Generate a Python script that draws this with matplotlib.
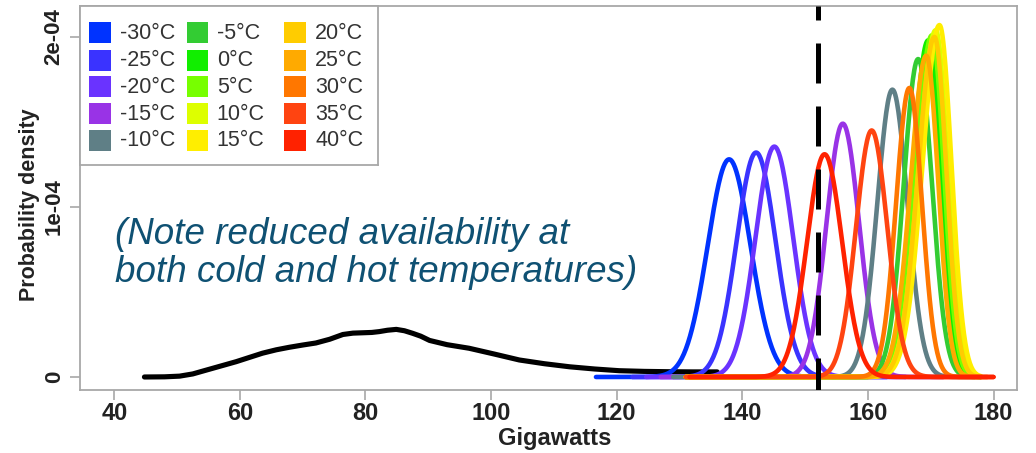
import numpy as np
import matplotlib
matplotlib.use("Agg")
import matplotlib.pyplot as plt
from matplotlib.patches import Rectangle

# ---------------- data ----------------
temps = ["-30°C", "-25°C", "-20°C", "-15°C", "-10°C",
         "-5°C", "0°C", "5°C", "10°C", "15°C",
         "20°C", "25°C", "30°C", "35°C", "40°C"]
colors = ["#0033FF", "#3a33FF", "#6a33FF", "#9933E6", "#5F7F86",
          "#33CC33", "#11EE00", "#77FF00", "#DDFF00", "#FFEE00",
          "#FFCC00", "#FFAA00", "#FF7700", "#FF4411", "#FF2200"]
# peak location (GW), peak density, left / right spread (GW), drawn range
peak_gw   = [137.9, 142.2, 145.1, 156.0, 163.9, 168.0, 169.6, 170.2, 170.8, 171.4,
             170.6, 169.3, 166.6, 160.6, 153.1]
peak_dens = [1.28e-4, 1.32e-4, 1.355e-4, 1.49e-4, 1.69e-4, 1.87e-4, 1.98e-4, 2.01e-4,
             2.04e-4, 2.07e-4, 2.00e-4, 1.89e-4, 1.70e-4, 1.45e-4, 1.31e-4]
sd_left   = [3.4, 3.1, 3.0, 2.6, 2.4, 2.3, 2.5, 2.6, 2.7, 2.7, 2.6, 2.5, 2.1, 2.5, 2.8]
sd_right  = [3.4, 3.1, 3.0, 2.6, 2.4, 2.2, 2.0, 1.9, 1.9, 1.9, 1.9, 1.9, 2.0, 2.5, 2.8]
x_start   = [116.7, 122.5, 124.7, 127.0, 129.0, 131.0, 131.0, 131.0, 131.0, 131.0,
             131.0, 131.0, 131.0, 131.0, 131.6]
x_end     = [160.0, 163.0, 166.0, 172.0, 177.0, 178.0, 178.0, 178.0, 178.0, 178.0,
             178.0, 178.0, 179.0, 180.0, 180.0]

# historical demand density (black curve)
demand_gw = [44.8, 48.0, 50.4, 52.5, 54.6, 57.0, 59.4, 61.5, 63.6, 65.8, 67.9, 70.0,
             72.1, 74.3, 76.4, 78.0, 79.5, 81.0, 82.2, 83.5, 84.9, 86.2, 87.5, 88.8,
             90.2, 93.0, 96.5, 100.5, 104.5, 108.5, 112.5, 116.5, 120.4, 124.4,
             128.4, 132.0, 136.0]
demand_dens = [0.0, 0.001, 0.005, 0.018, 0.040, 0.065, 0.090, 0.115, 0.140, 0.160,
               0.175, 0.188, 0.200, 0.222, 0.250, 0.258, 0.260, 0.262, 0.267, 0.275,
               0.280, 0.272, 0.257, 0.240, 0.215, 0.190, 0.169, 0.135, 0.100, 0.078,
               0.060, 0.047, 0.037, 0.033, 0.031, 0.030, 0.030]
demand_dens = [d * 1e-4 for d in demand_dens]

peak_demand_line = 152
xticks = [40, 60, 80, 100, 120, 140, 160, 180]
yticks = [0, 1e-4, 2e-4]
ytick_labels = ["0", "1e-04", "2e-04"]
note = "(Note reduced availability at\nboth cold and hot temperatures)"

# ---------------- figure ----------------
W, H = 1036, 453
fig = plt.figure(figsize=(W / 100, H / 100), dpi=100)
ax = fig.add_axes([80 / W, 1 - 390 / H, (1017 - 80) / W, (390 - 6) / H])
ax.set_xlim(34.54, 183.74)
ax.set_ylim(-0.0765e-4, 2.182e-4)

axis_font = ["Liberation Sans", "DejaVu Sans"]
box_col = "#A8A8A8"
for s in ax.spines.values():
    s.set_color(box_col)
    s.set_linewidth(1.3)

# black demand curve
ax.plot(demand_gw, demand_dens, color="black", lw=3.7, solid_capstyle="round",
        solid_joinstyle="round", zorder=2)

# availability curves
for i in range(len(temps)):
    xs = np.linspace(x_start[i], x_end[i], 400)
    sd = np.where(xs < peak_gw[i], sd_left[i], sd_right[i])
    ys = peak_dens[i] * np.exp(-0.5 * ((xs - peak_gw[i]) / sd) ** 2)
    ax.plot(xs, ys, color=colors[i], lw=3.3, solid_capstyle="round", zorder=3 + i)

# dashed line
ax.axvline(peak_demand_line, color="black", lw=3.6,
           linestyle=(1.6, (8.0, 4.6)), zorder=30)

ax.set_xticks(xticks)
ax.set_xticklabels([str(t) for t in xticks])
ax.set_yticks(yticks)
ax.set_yticklabels(ytick_labels, rotation=90, va="center")
ax.tick_params(axis="both", length=7, width=1.2, color=box_col,
               labelcolor="#222222")
ax.tick_params(axis="x", pad=2, labelsize=17)
ax.tick_params(axis="y", pad=4, labelsize=16)
for lab in ax.get_xticklabels() + ax.get_yticklabels():
    lab.set_family(axis_font)
    lab.set_fontweight("bold")

fig.text(555 / W, 1 - 438 / H, "Gigawatts", fontsize=17, fontweight="bold",
         color="#222222", family=axis_font, ha="center", va="center")
fig.text(29.5 / W, 1 - 204.5 / H, "Probability density", fontsize=15.5,
         fontweight="bold", color="#222222", family=axis_font, rotation=90,
         ha="center", va="center")

# note
fig.text(115 / W, 1 - 282 / H, note, fontsize=26.5,
         style="italic", color="#0f5173", family=["Liberation Sans", "DejaVu Sans"],
         va="baseline", ha="left", linespacing=1.12)

# legend (drawn manually in a pixel-based inset)
lax = fig.add_axes([80 / W, 1 - 165 / H, (378 - 80) / W, (165 - 6) / H])
lax.set_xlim(0, 298)
lax.set_ylim(159, 0)
lax.set_xticks([])
lax.set_yticks([])
for s in lax.spines.values():
    s.set_color(box_col)
    s.set_linewidth(1.3)
lax.patch.set_facecolor("white")
col_patch_x = [9.3, 106.7, 204.0]
col_text_x = [40.0, 136.7, 235.0]
row_y = [26.7, 54.0, 80.7, 107.3, 134.0]
for i, (lab, c) in enumerate(zip(temps, colors)):
    col, row = divmod(i, 5)
    lax.add_patch(Rectangle((col_patch_x[col], row_y[row] - 10.5), 21.5, 21,
                            facecolor=c, edgecolor="none"))
    lax.text(col_text_x[col], row_y[row] + 1, lab, fontsize=15.5, color="#333333",
             family=["Liberation Sans", "DejaVu Sans"], va="center", ha="left")

fig.savefig("out.png", dpi=100)
